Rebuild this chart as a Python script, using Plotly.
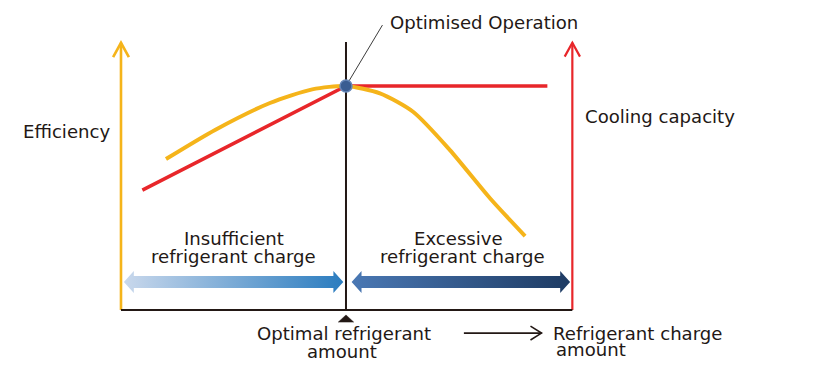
import plotly.graph_objects as go

# ---------------- data ----------------
# x: refrigerant charge amount (100 = optimal), y: relative performance (100 = optimum)
eff_x = [20.0, 42.0, 66.2, 85.0, 100.0, 115.1, 129.8, 146.2, 164.0, 179.6]
eff_y = [67.4, 80.5, 92.4, 98.5, 100.0, 96.7, 88.5, 71.4, 49.9, 33.0]
cap_x = [9.5, 100.0, 189.5]
cap_y = [53.5, 100.0, 100.0]
opt_x = [100.0]
opt_y = [100.0]
zone_top_lines = ["Insufficient", "Excessive"]
zone_bottom_lines = ["refrigerant charge", "refrigerant charge"]
zone_start = [1.3, 102.5]
zone_end = [98.8, 199.6]

# ---------------- styles ----------------
FONT = "DejaVu Sans"
FS = 18.1
TXT = "#231815"
YEL = "#f5b41a"
RED = "#e8262a"
DARK = "#231815"
# ranges compensate for the 8px page body margin
X_MIN, X_MAX = -50.22, 319.56
Y_MIN, Y_MAX = -35.71, 134.82
AXIS_RIGHT = 200.6
AXIS_TOP = 119.3

fig = go.Figure()

# double-headed zone arrows with gradient fills
ARW_Y = 12.5
BODY_H = 2.7
HEAD_H = 4.9
HEAD_L = 4.4
grads = [
    [[0, "#c9d8ec"], [1, "#2a7cbf"]],
    [[0, "#4a78b4"], [1, "#1e3b63"]],
]
for s, e, g in zip(zone_start, zone_end, grads):
    px = [s, s + HEAD_L, s + HEAD_L, e - HEAD_L, e - HEAD_L, e,
          e - HEAD_L, e - HEAD_L, s + HEAD_L, s + HEAD_L, s]
    py = [ARW_Y, ARW_Y + HEAD_H, ARW_Y + BODY_H, ARW_Y + BODY_H, ARW_Y + HEAD_H, ARW_Y,
          ARW_Y - HEAD_H, ARW_Y - BODY_H, ARW_Y - BODY_H, ARW_Y - HEAD_H, ARW_Y]
    fig.add_trace(go.Scatter(
        x=px, y=py, mode="lines", fill="toself", line=dict(width=0),
        fillgradient=dict(type="horizontal", colorscale=g),
        hoverinfo="skip", showlegend=False))

# cooling capacity (red)
fig.add_trace(go.Scatter(x=cap_x, y=cap_y, mode="lines",
                         line=dict(color=RED, width=3.5),
                         hoverinfo="skip", showlegend=False))
# efficiency (yellow)
fig.add_trace(go.Scatter(x=eff_x, y=eff_y, mode="lines",
                         line=dict(color=YEL, width=4, shape="spline", smoothing=0.7),
                         hoverinfo="skip", showlegend=False))
# optimised point
fig.add_trace(go.Scatter(x=opt_x, y=opt_y, mode="markers",
                         marker=dict(size=12, color="#3a5d92",
                                     line=dict(color="#6787b8", width=1.5)),
                         hoverinfo="skip", showlegend=False))

shapes = []
# left efficiency axis (yellow)
shapes.append(dict(type="line", x0=0, x1=0, y0=0, y1=AXIS_TOP,
                   line=dict(color=YEL, width=2.6), layer="below"))
shapes.append(dict(type="path",
                   path=f"M {-3.5},{AXIS_TOP-6.4} L 0,{AXIS_TOP} L {3.5},{AXIS_TOP-6.4}",
                   line=dict(color=YEL, width=2.6), layer="below"))
# right capacity axis (red)
shapes.append(dict(type="line", x0=AXIS_RIGHT, x1=AXIS_RIGHT, y0=0, y1=AXIS_TOP,
                   line=dict(color=RED, width=2.2), layer="below"))
shapes.append(dict(type="path",
                   path=f"M {AXIS_RIGHT-3.4},{AXIS_TOP-6.2} L {AXIS_RIGHT},{AXIS_TOP} L {AXIS_RIGHT+3.4},{AXIS_TOP-6.2}",
                   line=dict(color=RED, width=2.2), layer="below"))
# bottom axis
shapes.append(dict(type="line", x0=0, x1=AXIS_RIGHT, y0=0, y1=0,
                   line=dict(color=DARK, width=2), layer="below"))
# optimum vertical line
shapes.append(dict(type="line", x0=opt_x[0], x1=opt_x[0], y0=0, y1=AXIS_TOP + 0.3,
                   line=dict(color=DARK, width=2), layer="below"))
# leader line to label
shapes.append(dict(type="line", x0=opt_x[0], x1=116.2, y0=opt_y[0], y1=127.2,
                   line=dict(color="#3c3c3c", width=1), layer="below"))
# triangle marker under optimum
shapes.append(dict(type="path",
                   path=f"M {opt_x[0]-3.4},-5.4 L {opt_x[0]},-2.2 L {opt_x[0]+3.4},-5.4 Z",
                   fillcolor=DARK, line=dict(color=DARK, width=0.5)))
# "refrigerant charge amount" arrow
shapes.append(dict(type="line", x0=152.4, x1=186.9, y0=-10.3, y1=-10.3,
                   line=dict(color=DARK, width=1.6)))
shapes.append(dict(type="path",
                   path="M 182.0,-7.2 L 186.9,-10.3 L 182.0,-13.4",
                   line=dict(color=DARK, width=1.6)))

ann = []
def label(text, x, y, xanchor="center"):
    ann.append(dict(text=text, x=x, y=y, xref="x", yref="y", showarrow=False,
                    xanchor=xanchor, yanchor="middle", borderpad=0,
                    font=dict(family=FONT, size=FS, color=TXT)))

label("Optimised Operation", 119.0, 128.3, "left")
label("Efficiency", -44.0, 79.9, "left")
label("Cooling capacity", 205.8, 86.6, "left")
label(zone_top_lines[0], 50.2, 32.1)
label(zone_bottom_lines[0], 50.2, 24.1)
label(zone_top_lines[1], 149.8, 32.1)
label(zone_bottom_lines[1], 151.8, 24.1)
label("Optimal refrigerant", 99.1, -10.3)
label("amount", 98.2, -18.3)
label("Refrigerant charge", 191.6, -10.3, "left")
label("amount", 192.9, -17.8, "left")

fig.update_layout(
    width=832, height=382,
    margin=dict(l=0, r=0, t=0, b=0),
    paper_bgcolor="white", plot_bgcolor="white",
    xaxis=dict(range=[X_MIN, X_MAX], visible=False, fixedrange=True),
    yaxis=dict(range=[Y_MIN, Y_MAX], visible=False, fixedrange=True),
    shapes=shapes, annotations=ann, showlegend=False,
)

fig.write_html("out.html")
